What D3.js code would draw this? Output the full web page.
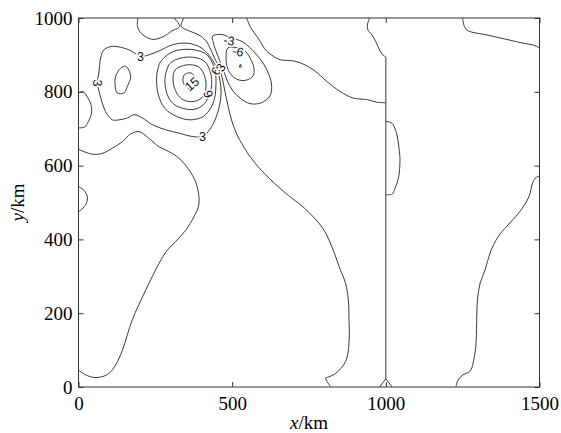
<!DOCTYPE html>
<html><head><meta charset="utf-8">
<script src="https://cdn.jsdelivr.net/npm/d3@7"></script>
<style>
html,body{margin:0;padding:0;background:#fff;}
svg{display:block;}
</style></head>
<body>
<svg id="chart" width="561" height="433"></svg>
<script>
// ---- data (km) ----
const xTicks = [0, 500, 1000, 1500];
const yTicks = [0, 200, 400, 600, 800, 1000];

// open contour lines
const lineA = [[0,644],[45,631],[77,633],[110,647],[143,665],[170,686],[197,692],[229,674],[262,651],[294,638],[327,620],[360,588],[381,556],[392,516],[390,489],[376,462],[349,425],[316,394],[289,371],[262,335],[219,263],[175,182],[143,100],[121,60],[99,37],[77,28],[50,26],[23,33],[0,46]];
const lineB = [[343,1000],[334,978],[360,965],[392,954],[415,938],[431,913],[444,889],[459,864],[469,832],[477,799],[488,756],[500,718],[516,683],[532,659],[561,621],[609,575],[667,530],[736,484],[795,430],[826,377],[848,326],[869,281],[878,236],[880,191],[880,118],[869,69],[837,37],[810,26],[804,24],[821,0]];
const lineTop = [[194,1000],[192,976],[210,954],[242,942],[275,949],[304,965],[329,977],[311,1000]];
const lineMid = [[547,1000],[561,973],[584,946],[612,910],[633,897],[656,887],[704,883],[737,873],[770,856],[808,828],[851,801],[894,783],[938,779],[970,772],[1000,770]];
const lineVert = [[947,1000],[940,981],[942,967],[955,954],[968,935],[978,916],[988,902],[1000,894],[1000,22],[979,0]];
const lineVertFoot = [[1000,22],[1021,0]];
const lineBulge = [[1000,720],[1019,715],[1033,693],[1044,639],[1046,612],[1041,566],[1030,539],[1021,523],[1000,521]];
const lineTopRight = [[1250,1000],[1254,981],[1264,967],[1329,954],[1404,940],[1446,932],[1479,927],[1500,919]];
const lineRight = [[1500,572],[1486,566],[1476,550],[1469,523],[1453,496],[1427,466],[1394,436],[1365,407],[1339,363],[1323,317],[1307,282],[1298,236],[1296,190],[1294,127],[1290,92],[1274,43],[1251,33],[1235,19],[1228,0]];
const lineEdge1 = [[0,797],[15,800],[31,783],[42,760],[41,737],[31,718],[21,705],[0,702]];
const lineEdge2 = [[0,543],[18,533],[29,515],[23,493],[7,479],[0,474]];

// closed contour loops
const ring3 = [[202,896],[164,914],[110,923],[83,914],[72,892],[67,856],[62,824],[70,791],[83,756],[94,738],[110,724],[132,724],[159,729],[181,738],[208,729],[240,711],[284,697],[327,688],[370,679],[405,679],[428,699],[447,729],[460,767],[464,799],[460,832],[452,859],[438,883],[412,911],[386,925],[350,932],[308,928],[265,912],[229,900]];
const ring6 = [[271,886],[308,909],[363,915],[412,904],[434,881],[446,848],[447,816],[443,783],[430,756],[406,733],[363,724],[320,733],[281,755],[260,791],[254,832],[260,868]];
const ring9 = [[298,877],[330,891],[379,893],[412,881],[430,851],[433,816],[423,786],[405,764],[379,753],[352,753],[314,764],[292,786],[281,827],[287,859]];
const ring12 = [[314,859],[352,873],[390,868],[408,848],[415,816],[405,787],[376,774],[341,778],[320,796],[308,827]];
const ring15 = [[347,848],[366,851],[379,840],[382,821],[373,808],[356,810],[343,821],[340,837]];
const ringM3 = [[436,951],[467,955],[493,947],[535,935],[578,902],[610,864],[628,821],[623,789],[594,770],[558,768],[526,783],[500,805],[483,832],[472,859],[459,886],[446,913],[438,935]];
const ringM6 = [[486,919],[513,920],[539,913],[558,892],[571,864],[568,843],[548,832],[522,832],[500,843],[485,864],[480,892]];
const ringM9 = [[523,867],[527,875],[530,867]];
const ringOval = [[121,842],[137,864],[154,869],[170,842],[159,815],[148,797],[126,797],[119,819]];

// contour labels: text, x (km), y (km)
const labelText = ["3","3","3","9","15","-3","-6","6","3"];
const labelX    = [202, 61, 403, 422, 369, 490, 519, 447, 463];
const labelY    = [896, 824, 679, 794, 821, 939, 909, 856, 866];
const labelRot  = [0, 90, 0, 70, -40, 8, 12, -60, -60];

// ---- drawing ----
const svg = d3.select("#chart");
const L = 78.5, R = 539.5, T = 18, B = 387;
const x = d3.scaleLinear().domain([0,1500]).range([L,R]);
const y = d3.scaleLinear().domain([0,1000]).range([B,T]);

svg.append("clipPath").attr("id","clip").append("rect")
  .attr("x",L).attr("y",T).attr("width",R-L).attr("height",B-T);

const g = svg.append("g").attr("clip-path","url(#clip)");
const smooth = d3.line().x(d=>x(d[0])).y(d=>y(d[1])).curve(d3.curveCatmullRom.alpha(0.5));
const straight = d3.line().x(d=>x(d[0])).y(d=>y(d[1]));
const closed = d3.line().x(d=>x(d[0])).y(d=>y(d[1])).curve(d3.curveCatmullRomClosed.alpha(0.5));
const closedLin = d3.line().x(d=>x(d[0])).y(d=>y(d[1])).curve(d3.curveLinearClosed);

const lineColor = "#3a3a3a";
function draw(path){ g.append("path").attr("d",path).attr("fill","none").attr("stroke",lineColor).attr("stroke-width",1); }

[lineA,lineB,lineTop,lineMid,lineBulge,lineTopRight,lineRight,lineEdge1,lineEdge2].forEach(d=>draw(smooth(d)));
draw(straight(lineVert.slice(7)));
draw(smooth(lineVert.slice(0,8)));
draw(straight(lineVertFoot));
[ring3,ring6,ring9,ring12,ring15,ringM3,ringM6,ringOval].forEach(d=>draw(closed(d)));
draw(closedLin(ringM9));

// labels
labelText.forEach((t,i)=>{
  g.append("text")
    .attr("transform",`translate(${x(labelX[i])},${y(labelY[i])}) rotate(${labelRot[i]})`)
    .attr("text-anchor","middle").attr("dy","0.35em")
    .attr("font-family","'Liberation Sans', Arial, sans-serif").attr("font-size",12.5)
    .attr("fill","#111").attr("stroke","#fff").attr("stroke-width",3)
    .attr("paint-order","stroke").text(t);
});

// axes (ticks inward, on all four sides)
const tickFont = "'Liberation Serif','Times New Roman',serif";
const axB = svg.append("g").attr("transform",`translate(0,${B})`)
  .call(d3.axisBottom(x).tickValues(xTicks).tickSizeInner(-5).tickSizeOuter(0).tickPadding(10).tickFormat(d3.format("d")));
const axT = svg.append("g").attr("transform",`translate(0,${T})`)
  .call(d3.axisTop(x).tickValues(xTicks).tickSizeInner(-5).tickSizeOuter(0).tickFormat(""));
const axL = svg.append("g").attr("transform",`translate(${L},0)`)
  .call(d3.axisLeft(y).tickValues(yTicks).tickSizeInner(-5).tickSizeOuter(0).tickPadding(6).tickFormat(d3.format("d")));
const axR = svg.append("g").attr("transform",`translate(${R},0)`)
  .call(d3.axisRight(y).tickValues(yTicks).tickSizeInner(-5).tickSizeOuter(0).tickFormat(""));
[axB,axT,axL,axR].forEach(a=>{
  a.select(".domain").remove();
  a.selectAll("line").attr("stroke","#333");
  a.selectAll("text").attr("font-family",tickFont).attr("font-size",19).attr("fill","#000");
});
svg.append("rect").attr("x",L).attr("y",T).attr("width",R-L).attr("height",B-T)
  .attr("fill","none").attr("stroke","#333").attr("stroke-width",1);

// axis titles
const xt = svg.append("text").attr("x",(L+R)/2).attr("y",429).attr("text-anchor","middle")
  .attr("font-family",tickFont).attr("font-size",19);
xt.append("tspan").attr("font-style","italic").text("x");
xt.append("tspan").text("/km");
const yt = svg.append("text").attr("transform",`translate(24,${(T+B)/2}) rotate(-90)`).attr("text-anchor","middle")
  .attr("font-family",tickFont).attr("font-size",19);
yt.append("tspan").attr("font-style","italic").text("y");
yt.append("tspan").text("/km");
</script>
</body></html>
